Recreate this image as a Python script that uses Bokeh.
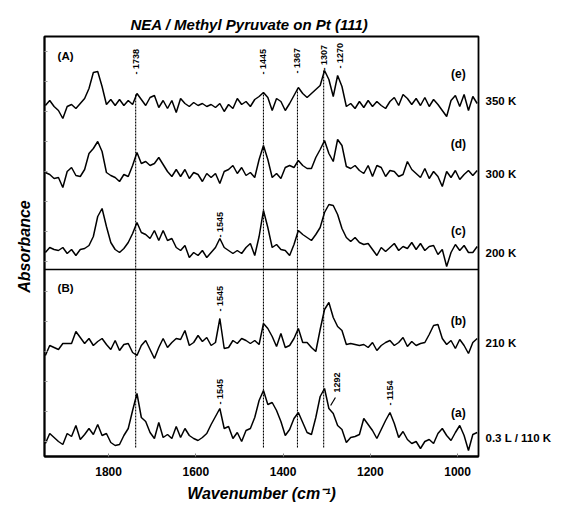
import numpy as np
from bokeh.plotting import figure
from bokeh.models import Range1d, Label, Span, FixedTicker, LinearAxis
from bokeh.embed import file_html
from bokeh.resources import INLINE

# ---------------- data ----------------
wavenumber = [1945, 1935, 1925, 1915, 1905, 1895, 1885, 1875, 1865, 1855,
              1845, 1835, 1825, 1815, 1805, 1795, 1785, 1775, 1765, 1755,
              1745, 1735, 1725, 1715, 1705, 1695, 1685, 1675, 1665, 1655,
              1645, 1635, 1625, 1615, 1605, 1595, 1585, 1575, 1565, 1555,
              1545, 1535, 1525, 1515, 1505, 1495, 1485, 1475, 1465, 1455,
              1445, 1435, 1425, 1415, 1405, 1395, 1385, 1375, 1365, 1355,
              1345, 1335, 1325, 1315, 1305, 1295, 1285, 1275, 1265, 1255,
              1245, 1235, 1225, 1215, 1205, 1195, 1185, 1175, 1165, 1155,
              1145, 1135, 1125, 1115, 1105, 1095, 1085, 1075, 1065, 1055,
              1045, 1035, 1025, 1015, 1005, 995, 985, 975, 965, 955]

spec_e = [-3, 2, -4, -8, -16, -4, -2, -6, -1, 4,
          14, 30, 31, 16, -2, 3, -3, 3, -3, 2,
          -2, 9, 3, -3, 5, 7, -5, 2, -6, 2,
          -10, 4, -1, -4, 0, -3, -1, -4, -2, -5,
          -1, -9, -2, -6, 4, -2, 1, -4, 3, 6,
          10, 5, -8, 4, 1,
          -8, -1, 7, 15, 9, 5, 9, 13, 17, 32,
          23, 6, 27, 16, -4, -1, -6, 1, -5, 2,
          -4, 1, -3, -6, 1, 5, -3, 8, 4, -2,
          4, -3, 5, -4, 3, -2, -8, -14, 2, 7,
          -4, 8, -8, 6, -1]

spec_d = [3, 1, -3, -2, -12, 4, 8, 0, -1, 6,
          22, 27, 34, 24, 3, 0, -2, -6, 1, -1,
          10, 23, 12, 14, 10, 12, 18, 11, 4, -1,
          6, -1, 6, -3, 3, 1, -6, 2, -2, 2,
          -8, 4, 6, 10, 2, 8, 0, 3, -2, 16,
          30, 16, -2, 2, -3,
          8, 10, 8, 15, 10, 7, 7, 18, 26, 35,
          22, 14, 36, 30, 9, 7, 10, 5, 2, 10,
          -1, 10, 8, -1, 5, 4, -1, 1, 14, 6,
          2, -2, 7, -3, 4, -1, -11, 4, -2, 5,
          -4, 1, 5, 0, 5]

spec_c = [0, 5, 3, 2, 5, -1, 3, -3, 3, 4,
          7, 16, 36, 44, 26, 10, 3, 0, 4, 10,
          19, 30, 20, 18, 14, 22, 12, 22, 12, 14,
          5, 2, 7, -5, 0, -3, 2, -5, 0, 5,
          14, 5, 2, -1, 2, -1, 5, 9, -3, 16,
          42, 25, 5, 8, 3,
          2, -3, 8, 22, 18, 15, 12, 18, 25, 40,
          48, 47, 38, 24, 15, 11, 15, 10, 8, 9,
          3, -3, 5, 1, 5, 9, 2, 6, 4, 10,
          3, 9, 2, 6, 7, -2, 3, -14, 0, 8,
          2, 7, 0, 0, 6]

spec_b = [-11, -1, -3, -5, 1, 1, 1, 13, 7, 1,
          6, -1, 3, 6, 0, -5, 4, -6, 0, 1,
          -8, -11, -1, 4, -5, -14, -3, 6, -3, 2,
          6, 5, 14, -1, 2, 9, 3, 7, -1, 2,
          26, -4, -3, 4, 1, 6, 4, 1, 4, 0,
          21, 16, 8, -2, 11,
          -3, -1, 6, 16, 2, 2, -3, -7, 15, 35,
          42, 27, 18, 14, 0, 1, 0, -1, 0, -3,
          2, -6, -1, 2, 4, -1, 2, 7, -2, 3,
          -1, 1, 2, 10, 19, 20, 6, 0, 4, -4,
          5, -1, -9, 2, 6]

spec_a = [-3, 7, 3, -1, -4, 7, 4, 15, 1, 6,
          12, 6, 16, 5, 7, -2, -5, -4, 5, 12,
          30, 47, 23, 19, 8, 2, 18, 3, 6, 2,
          14, 3, 12, 5, 2, 0, 3, 7, 16, 24,
          32, 12, 14, 2, 8, -1, 10, 12, 23, 40,
          50, 36, 38, 30, 19,
          5, 11, 22, 28, 18, 8, 6, 23, 44, 52,
          32, 27, 15, 11, -2, 3, 4, 6, 22, 16,
          10, 2, 11, 20, 28, 17, 3, 9, 1, -3,
          -1, -8, -1, 1, -3, 7, 12, 5, 0, 8,
          15, 5, -10, 6, 8]

spectra = [spec_e, spec_d, spec_c, spec_b, spec_a]
offsets = [354, 281, 204, 112, 16]
letters = ["(e)", "(d)", "(c)", "(b)", "(a)"]
temps = ["350 K", "300 K", "200 K", "210 K", "0.3 L / 110 K"]

marker_wn = [1738, 1445, 1367, 1307]
marker_top = [363, 364, 369, 387]
marker_bottom = [9, 9, 9, 9]

peak_wn = [1738, 1445, 1367, 1307, 1270, 1545, 1545, 1545, 1154]
peak_text = ["1738", "1445", "1367", "1307", "1270", "1545", "1545", "1545", "1154"]
peak_y = [382, 382, 383, 386, 388, 219, 145, 52, 51]

xticks = [1800, 1600, 1400, 1200, 1000]

# ---------------- figure ----------------
FONT = "Liberation Sans"
p = figure(width=561, height=506, output_backend="svg", toolbar_location=None,
           x_range=Range1d(1947, 952), y_range=Range1d(0, 420),
           min_border_left=44, min_border_right=83, min_border_top=36,
           min_border_bottom=50)
p.xgrid.visible = False
p.ygrid.visible = False
p.outline_line_color = "black"
p.outline_line_width = 1.8
p.background_fill_color = "white"
p.border_fill_color = "white"

p.title.text = "NEA / Methyl Pyruvate on Pt (111)"
p.title.text_font = FONT
p.title.text_font_style = "bold italic"
p.title.text_font_size = "15px"
p.title.text_color = "black"
p.title.align = "left"
p.title.offset = 86
p.title.standoff = 7

p.xaxis.ticker = FixedTicker(ticks=xticks)
p.xaxis.major_label_text_font = FONT
p.xaxis.major_label_text_font_style = "bold"
p.xaxis.major_label_text_font_size = "12px"
p.xaxis.major_label_text_color = "black"
p.xaxis.major_tick_in = 3
p.xaxis.major_tick_out = 0
p.xaxis.minor_tick_in = 0
p.xaxis.minor_tick_out = 0
p.xaxis.major_label_standoff = 10
p.xaxis.axis_line_width = 1.8
p.xaxis.axis_line_color = "black"
p.xaxis.major_tick_line_color = "#888888"
p.xaxis.axis_label = "Wavenumber (cm\u207b\u00b9)"
p.xaxis.axis_label_text_font = FONT
p.xaxis.axis_label_text_font_style = "bold italic"
p.xaxis.axis_label_text_font_size = "16px"
p.xaxis.axis_label_text_color = "black"
p.xaxis.axis_label_standoff = 6

p.yaxis.ticker = FixedTicker(ticks=list(range(15, 420, 30)), minor_ticks=[])
p.yaxis.major_label_text_font_size = "0px"
p.yaxis.major_label_standoff = 0
p.yaxis.major_tick_in = 3
p.yaxis.major_tick_out = 0
p.yaxis.minor_tick_in = 0
p.yaxis.minor_tick_out = 0
p.yaxis.major_tick_line_color = "#999999"
p.yaxis.axis_line_width = 1.8
p.yaxis.axis_line_color = "black"
p.yaxis.axis_label = "Absorbance"
p.yaxis.axis_label_text_font = FONT
p.yaxis.axis_label_text_font_style = "bold italic"
p.yaxis.axis_label_text_font_size = "16px"
p.yaxis.axis_label_text_color = "black"
p.yaxis.axis_label_standoff = 12

# right axis carrying the temperature labels
temp_y = [356, 283, 204, 114, 19]
raxis = LinearAxis(ticker=FixedTicker(ticks=temp_y, minor_ticks=[]),
                   major_label_overrides={y: t for y, t in zip(temp_y, temps)},
                   axis_line_color=None, major_tick_line_color=None,
                   major_tick_in=0, major_tick_out=0, minor_tick_in=0, minor_tick_out=0,
                   major_label_standoff=7, major_label_text_font=FONT,
                   major_label_text_font_style="bold", major_label_text_font_size="11.5px",
                   major_label_text_color="black")
p.add_layout(raxis, "right")

wn = np.array(wavenumber, dtype=float)
for spec, off in zip(spectra, offsets):
    p.line(wn, np.array(spec, dtype=float) + off, line_color="black", line_width=1.5)

# panel divider
p.add_layout(Span(location=187, dimension="width", line_color="black", line_width=1.6))

# dotted marker lines
p.segment(x0=marker_wn, x1=marker_wn, y0=marker_bottom, y1=marker_top,
          line_color="black", line_width=1.1, line_dash="2 1")

# 1292 leader line
p.segment(x0=[1291], x1=[1280], y0=[51], y1=[59], line_color="black", line_width=1.2)


def lab(x, y, text, size, style="bold", align="left", baseline="middle", angle=0.0):
    p.add_layout(Label(x=x, y=y, text=text, text_font=FONT, text_font_size=size,
                       text_font_style=style, text_align=align,
                       text_baseline=baseline, angle=angle, text_color="black"))


for x, t, y in zip(peak_wn, peak_text, peak_y):
    lab(x, y, "- " + t, "9px", angle=np.pi / 2)
lab(1276, 64, "1292", "9px", angle=np.pi / 2)

letter_y = [383, 313, 226, 136, 44]
for t, y in zip(letters, letter_y):
    lab(998, y, t, "12px", align="center")

lab(1917, 401, "(A)", "11.5px")
lab(1917, 169, "(B)", "11.5px")

open("out.html", "w").write(file_html(p, INLINE))
